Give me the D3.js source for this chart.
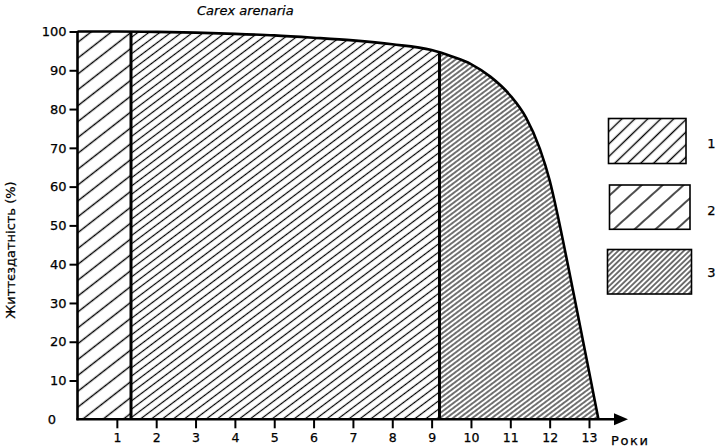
<!DOCTYPE html>
<html><head><meta charset="utf-8">
<script src="https://cdn.jsdelivr.net/npm/d3@7"></script>
<style>
body{margin:0;background:#fff;}
svg{display:block;}
text{font-family:"DejaVu Sans",sans-serif;fill:#000;stroke:#000;stroke-width:0.25px;}
</style></head>
<body>
<svg id="chart" width="716" height="447"></svg>
<script>
// ---- data ----
const title = "Carex arenaria";
const yLabel = "Життєздатність (%)";
const xLabel = "Роки";
const years = [0, 1, 2, 3, 4, 5, 6, 7, 8, 9, 9.5, 10, 10.5, 11, 11.4, 11.75, 12.0, 12.2, 12.45, 12.7, 12.95, 13.24];
const survival = [100, 100, 99.9, 99.7, 99.4, 99.0, 98.4, 97.7, 96.7, 95.2, 93.6, 91.6, 88.3, 83.5, 77.8, 69.8, 61.6, 52.8, 40.5, 27.8, 15.0, 0];
const boundaries = [0, 1.36, 9.2, 13.24];   // region limits in years
const xTicks = [1,2,3,4,5,6,7,8,9,10,11,12,13];
const yTicks = [10,20,30,40,50,60,70,80,90,100];
const legendLabels = ["1","2","3"];

// ---- layout ----
const svg = d3.select("#chart");
const x = d3.scaleLinear().domain([0,13]).range([77.5,589]);
const y = d3.scaleLinear().domain([0,100]).range([419.3,31.5]);

const defs = svg.append("defs");
function hatch(id, spacing, angle, sw){
  const p = defs.append("pattern").attr("id",id).attr("patternUnits","userSpaceOnUse")
    .attr("width",20).attr("height",spacing)
    .attr("patternTransform",`rotate(${-angle})`);
  p.append("rect").attr("width",20).attr("height",spacing).attr("fill","#fff");
  p.append("line").attr("x1",-1).attr("x2",21).attr("y1",spacing/2).attr("y2",spacing/2)
    .attr("stroke","#000").attr("stroke-width",sw);
}
hatch("h1", 12.5, 38, 1.4);
hatch("h2", 6.6, 37, 1.2);
hatch("h3", 3.9, 37, 1.1);
hatch("lg1", 9.0, 44, 1.4);
hatch("lg2", 14.0, 42, 1.4);
hatch("lg3", 3.8, 44, 1.1);

const pts = years.map((t,i)=>[t,survival[i]]);
const area = d3.area().x(d=>x(d[0])).y0(y(0)).y1(d=>y(d[1])).curve(d3.curveMonotoneX);
const line = d3.line().x(d=>x(d[0])).y(d=>y(d[1])).curve(d3.curveMonotoneX);

const fills = ["url(#h1)","url(#h2)","url(#h3)"];
for(let i=0;i<3;i++){
  defs.append("clipPath").attr("id","c"+i).append("rect")
    .attr("x",x(boundaries[i])).attr("y",0)
    .attr("width",x(boundaries[i+1])-x(boundaries[i])+ (i==2?5:0)).attr("height",447);
  svg.append("path").datum(pts).attr("d",area).attr("fill",fills[i])
    .attr("clip-path",`url(#c${i})`);
}

function surv(t){
  for(let i=1;i<years.length;i++){
    if(t<=years[i]){const f=(t-years[i-1])/(years[i]-years[i-1]);return survival[i-1]+f*(survival[i]-survival[i-1]);}
  }
  return 0;
}
[boundaries[1],boundaries[2]].forEach(b=>{
  svg.append("line").attr("x1",x(b)).attr("x2",x(b)).attr("y1",y(0)).attr("y2",y(surv(b)))
    .attr("stroke","#000").attr("stroke-width",3);
});

svg.append("path").datum(pts).attr("d",line).attr("fill","none").attr("stroke","#000").attr("stroke-width",2.6);

// y axis
const yAxis = d3.axisLeft(y).tickValues(yTicks).tickSize(8).tickPadding(3);
const gy = svg.append("g").attr("transform",`translate(${x(0)},0)`).call(yAxis);
gy.select(".domain").remove();
gy.selectAll(".tick line").attr("stroke","#000").attr("stroke-width",2);
gy.selectAll(".tick text").attr("font-size",13).attr("font-family","DejaVu Sans, sans-serif").attr("fill","#000");
svg.append("line").attr("x1",x(0)).attr("x2",x(0)).attr("y1",y(100)-0.5).attr("y2",y(0)+1)
  .attr("stroke","#000").attr("stroke-width",2.6);
svg.append("text").attr("x",52).attr("y",y(0)+5).attr("text-anchor","middle").attr("font-size",13).text("0");

// x axis
const xAxis = d3.axisBottom(x).tickValues(xTicks).tickSize(9).tickPadding(5);
const gx = svg.append("g").attr("transform",`translate(0,${y(0)})`).call(xAxis);
gx.select(".domain").remove();
gx.selectAll(".tick line").attr("stroke","#000").attr("stroke-width",2);
gx.selectAll(".tick text").attr("font-size",12.5).attr("font-family","DejaVu Sans, sans-serif").attr("fill","#000");
svg.append("line").attr("x1",x(0)-1).attr("x2",616).attr("y1",y(0)).attr("y2",y(0))
  .attr("stroke","#000").attr("stroke-width",2.6);
svg.append("path").attr("d",`M614,${y(0)-6} L628,${y(0)} L614,${y(0)+6} Z`).attr("fill","#000");
svg.append("text").attr("x",611).attr("y",445).attr("font-size",13).attr("letter-spacing",1.6).text(xLabel);

// title
svg.append("text").attr("x",197).attr("y",15).attr("font-size",13).attr("font-style","italic").text(title);

// y label
svg.append("text").attr("transform","translate(15,250) rotate(-90)").attr("text-anchor","middle")
  .attr("font-size",13).text(yLabel);

// legend
const lgBoxes = [[608.5,118.5,77.5,45],[609.5,185,80.5,44.3],[607.5,249.5,84,44.5]];
const lgText = [[711.5,147.5],[711.5,214.5],[711.5,276.5]];
legendLabels.forEach((lab,i)=>{
  const b=lgBoxes[i];
  svg.append("rect").attr("x",b[0]).attr("y",b[1]).attr("width",b[2]).attr("height",b[3])
    .attr("fill",`url(#lg${i+1})`).attr("stroke","#000").attr("stroke-width",1.6);
  svg.append("text").attr("x",lgText[i][0]).attr("y",lgText[i][1]).attr("text-anchor","middle")
    .attr("font-size",13).text(lab);
});
</script>
</body></html>
